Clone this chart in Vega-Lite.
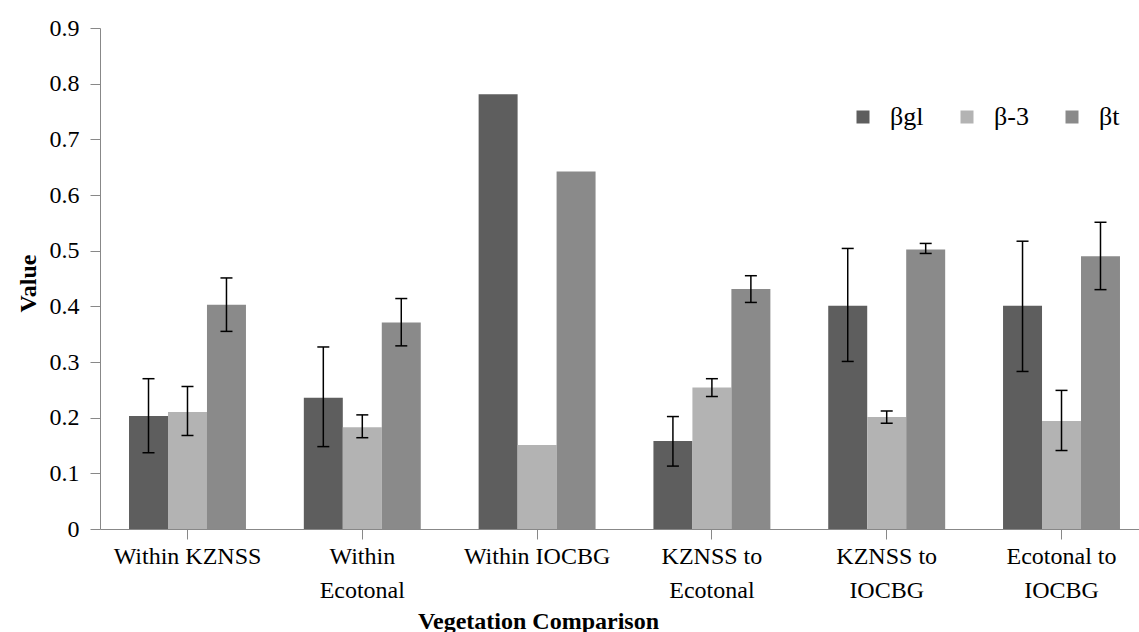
{
  "$schema": "https://vega.github.io/schema/vega-lite/v6.json",
  "width": 1049,
  "height": 501,
  "autosize": {"type": "none"},
  "padding": {"left": 100, "top": 28, "right": -10, "bottom": 103},
  "background": "white",
  "config": {
    "view": {"stroke": null},
    "font": "Liberation Serif",
    "axis": {"grid": false, "domainColor": "#888888", "tickColor": "#888888", "labelColor": "black", "titleColor": "black", "labelFont": "Liberation Serif", "titleFont": "Liberation Serif"},
    "legend": {"labelFont": "Liberation Serif", "labelColor": "black"}
  },
  "data": {
    "values": [
      {"cat": "Within KZNSS", "series": "βgl", "value": 0.203, "lo": 0.137, "hi": 0.270},
      {"cat": "Within KZNSS", "series": "β-3", "value": 0.210, "lo": 0.168, "hi": 0.256},
      {"cat": "Within KZNSS", "series": "βt", "value": 0.403, "lo": 0.355, "hi": 0.451},
      {"cat": "Within Ecotonal", "series": "βgl", "value": 0.236, "lo": 0.148, "hi": 0.327},
      {"cat": "Within Ecotonal", "series": "β-3", "value": 0.183, "lo": 0.164, "hi": 0.205},
      {"cat": "Within Ecotonal", "series": "βt", "value": 0.371, "lo": 0.329, "hi": 0.414},
      {"cat": "Within IOCBG", "series": "βgl", "value": 0.781, "lo": null, "hi": null},
      {"cat": "Within IOCBG", "series": "β-3", "value": 0.151, "lo": null, "hi": null},
      {"cat": "Within IOCBG", "series": "βt", "value": 0.642, "lo": null, "hi": null},
      {"cat": "KZNSS to Ecotonal", "series": "βgl", "value": 0.158, "lo": 0.113, "hi": 0.202},
      {"cat": "KZNSS to Ecotonal", "series": "β-3", "value": 0.254, "lo": 0.238, "hi": 0.270},
      {"cat": "KZNSS to Ecotonal", "series": "βt", "value": 0.431, "lo": 0.407, "hi": 0.455},
      {"cat": "KZNSS to IOCBG", "series": "βgl", "value": 0.401, "lo": 0.301, "hi": 0.504},
      {"cat": "KZNSS to IOCBG", "series": "β-3", "value": 0.201, "lo": 0.190, "hi": 0.212},
      {"cat": "KZNSS to IOCBG", "series": "βt", "value": 0.502, "lo": 0.495, "hi": 0.513},
      {"cat": "Ecotonal to IOCBG", "series": "βgl", "value": 0.401, "lo": 0.283, "hi": 0.517},
      {"cat": "Ecotonal to IOCBG", "series": "β-3", "value": 0.194, "lo": 0.141, "hi": 0.249},
      {"cat": "Ecotonal to IOCBG", "series": "βt", "value": 0.490, "lo": 0.430, "hi": 0.551}
    ]
  },
  "encoding": {
    "x": {
      "field": "cat",
      "type": "nominal",
      "sort": ["Within KZNSS", "Within Ecotonal", "Within IOCBG", "KZNSS to Ecotonal", "KZNSS to IOCBG", "Ecotonal to IOCBG"],
      "scale": {"paddingInner": 0.331, "paddingOuter": 0.166},
      "axis": {
        "title": "Vegetation Comparison",
        "labelAngle": 0,
        "tickSize": 10,
        "labelFontSize": 24,
        "labelPadding": 5,
        "labelLineHeight": 34,
        "labelOverlap": false,
        "labelLimit": 300,
        "labelExpr": "datum.value == 'Within Ecotonal' ? ['Within', 'Ecotonal'] : (indexof(datum.value, ' to ') > 0 ? [slice(datum.value, 0, indexof(datum.value, ' to ') + 3), slice(datum.value, indexof(datum.value, ' to ') + 4)] : datum.value)",
        "titleFontSize": 24,
        "titleFontWeight": "bold",
        "titleX": 438,
        "titleY": 99,
        "titleAlign": "center",
        "titleBaseline": "alphabetic"
      }
    },
    "xOffset": {"field": "series", "type": "nominal", "sort": ["βgl", "β-3", "βt"], "scale": {"paddingInner": 0, "paddingOuter": 0}}
  },
  "layer": [
    {
      "mark": {"type": "bar"},
      "encoding": {
        "y": {
          "field": "value",
          "type": "quantitative",
          "scale": {"domain": [0, 0.9], "nice": false},
          "axis": {
            "title": "Value",
            "values": [0, 0.1, 0.2, 0.3, 0.4, 0.5, 0.6, 0.7, 0.8, 0.9],
            "format": ".1~f",
            "labelFontSize": 24,
            "tickSize": 10,
            "labelPadding": 11,
            "titleFontSize": 24,
            "titleFontWeight": "bold",
            "titleX": -72,
            "titleY": 255,
            "titleAlign": "center",
            "titleBaseline": "middle",
            "titleAngle": -90
          }
        },
        "color": {
          "field": "series",
          "type": "nominal",
          "sort": ["βgl", "β-3", "βt"],
          "scale": {"domain": ["βgl", "β-3", "βt"], "range": ["#5e5e5e", "#b3b3b3", "#8a8a8a"]},
          "legend": {
            "orient": "none",
            "legendX": 750,
            "legendY": 76,
            "direction": "horizontal",
            "title": null,
            "symbolType": "square",
            "symbolSize": 169,
            "symbolStrokeWidth": 0,
            "labelFont": "Liberation Serif",
            "labelFontSize": 26,
            "labelOffset": 14,
            "columnPadding": 30
          }
        }
      }
    },
    {
      "mark": {"type": "rule", "color": "black", "strokeWidth": 1.5},
      "encoding": {
        "y": {"field": "lo", "type": "quantitative"},
        "y2": {"field": "hi"}
      }
    },
    {
      "mark": {"type": "tick", "color": "black", "size": 12, "thickness": 1.5, "opacity": 1},
      "encoding": {"y": {"field": "lo", "type": "quantitative"}}
    },
    {
      "mark": {"type": "tick", "color": "black", "size": 12, "thickness": 1.5, "opacity": 1},
      "encoding": {"y": {"field": "hi", "type": "quantitative"}}
    }
  ]
}
